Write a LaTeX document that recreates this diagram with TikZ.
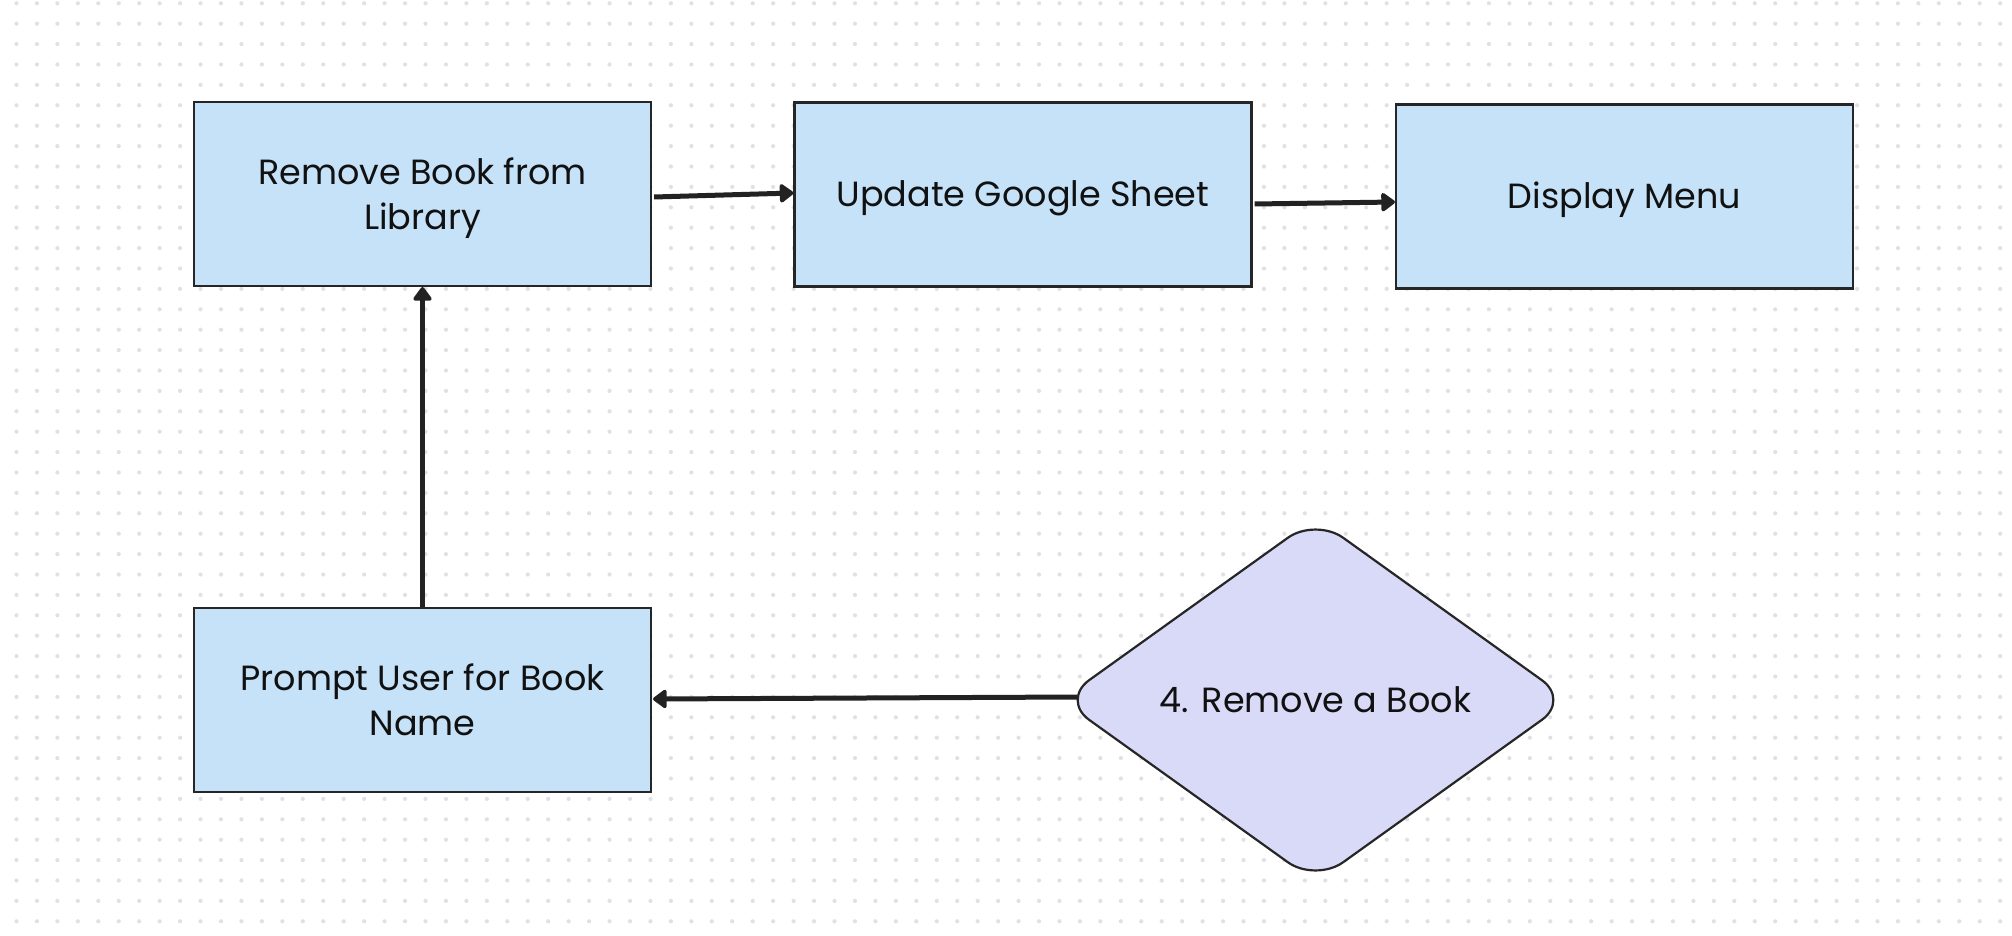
\documentclass[tikz,border=0pt]{standalone}
\usepackage{fontspec}
\setmainfont{Poppins}
\usetikzlibrary{shapes.geometric,arrows.meta}
\definecolor{boxfill}{HTML}{C5E2F8}
\definecolor{diafill}{HTML}{D8DAF8}
\definecolor{edge}{HTML}{262626}
\definecolor{arrowc}{HTML}{222222}
\definecolor{dotc}{HTML}{DFE1E7}
\definecolor{txt}{HTML}{111111}
\tikzset{
  labelfont/.style={align=center, font=\fontsize{35}{44.5}\selectfont, text=txt},
  oneline/.style={text height=34.4pt, text depth=10pt},
  twoline/.style={text height=80.5pt, text depth=10pt},
  procbox/.style={draw=edge, line width=2.2pt, fill=boxfill, minimum width=457pt, minimum height=184pt, inner sep=0pt, labelfont},
  decbox/.style={shape=diamond, draw=edge, line width=2.2pt, fill=diafill, rounded corners=34pt,
    minimum width=509pt, minimum height=365pt, aspect=1.395, inner sep=0pt, labelfont},
  flow/.style={draw=arrowc, line width=5pt, -{Triangle[length=15pt,width=21pt,round]}}
}
\begin{document}
\begin{tikzpicture}[x=1pt,y=-1pt]
\useasboundingbox (0,0) rectangle (2012,936);
\fill[white] (0,0) rectangle (2012,936);
\foreach \i in {0,...,97}{
  \foreach \j in {0,...,45}{
    \fill[dotc] ({16.5+20.45*\i},{3.3+20.4*\j}) circle (2.1pt);
  }
}
\node[procbox, twoline] (remove) at (422.5,194) {Remove Book from\\Library};
\node[procbox, oneline] (update) at (1023,194.5) {Update Google Sheet};
\node[procbox, oneline] (menu) at (1624.5,196.5) {Display Menu};
\node[procbox, twoline] (prompt) at (422.5,700) {Prompt User for Book\\Name};
\node[decbox, oneline] (choice) at (1315.5,700) {4. Remove a Book};
\draw[flow] ([xshift=2pt,yshift=-3pt]remove.east) -- ([yshift=1.5pt]update.west);
\draw[flow] ([xshift=2pt,yshift=-9.5pt]update.east) -- ([yshift=-5.5pt]menu.west);
\draw[flow] (prompt.north) -- (remove.south);
\draw[flow] ([xshift=17pt,yshift=3pt]choice.west) -- ([xshift=1pt,yshift=1pt]prompt.east);
\end{tikzpicture}
\end{document}
